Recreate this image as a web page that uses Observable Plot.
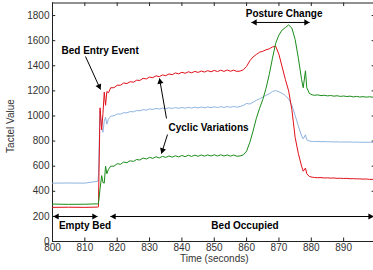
<!DOCTYPE html>
<html><head><meta charset="utf-8">
<script src="https://cdn.jsdelivr.net/npm/d3@7"></script>
<script src="https://cdn.jsdelivr.net/npm/@observablehq/plot@0.6"></script>
<style>body{margin:0;background:#fff}#chart{width:373px;height:270px;overflow:hidden}</style>
</head><body><div id="chart"></div>
<script>
const time = [800, 805, 810, 814, 814.2, 814.7, 815.2, 815.6, 816, 816.4, 816.8, 817.3,
  818, 819, 820, 821, 822, 823, 824, 825, 826, 827,
  828, 829, 830, 831, 832, 833, 834, 835, 836, 837,
  838, 839, 840, 841, 842, 843, 844, 845, 846, 847,
  848, 849, 850, 851, 852, 853, 854, 855, 856, 857,
  858, 859, 860, 861, 862, 863, 864, 865, 866, 867,
  868, 869, 870, 871, 872, 873, 874, 875, 876, 877,
  877.5, 878.2, 878.6, 879.4, 880.3,
  881, 882, 883, 884, 885, 886, 887, 888, 889, 890,
  891, 892, 893, 894, 895, 896, 897, 898, 899];
const redSeries = [272, 273, 272, 274, 276, 1065, 890, 1020, 1190, 1085, 1195, 1185,
  1225, 1225, 1245, 1245, 1263, 1258, 1273, 1269, 1285, 1283,
  1300, 1295, 1310, 1305, 1320, 1313, 1327, 1321, 1335, 1329,
  1343, 1336, 1348, 1340, 1352, 1344, 1355, 1347, 1358, 1350,
  1361, 1352, 1363, 1354, 1365, 1355, 1366, 1356, 1365, 1355,
  1358, 1368, 1395, 1440, 1470, 1490, 1508, 1515, 1527, 1535,
  1550, 1555, 1490, 1390, 1290, 1200, 1050, 830, 700, 600,
  560, 585, 540, 518, 512,
  510, 508, 509, 506, 507, 505, 506, 503, 504, 502,
  503, 500, 501, 499, 499, 497, 498, 495, 495];
const blueSeries = [465, 466, 465, 480, 520, 1040, 900, 870, 960, 990, 935, 975,
  998, 1002, 1016, 1015, 1026, 1025, 1035, 1033, 1043, 1041,
  1050, 1047, 1056, 1052, 1060, 1055, 1063, 1058, 1065, 1060,
  1067, 1061, 1068, 1062, 1069, 1063, 1070, 1064, 1071, 1065,
  1072, 1066, 1073, 1067, 1074, 1068, 1075, 1069, 1076, 1070,
  1075, 1085, 1100, 1095, 1110, 1125, 1137, 1150, 1165, 1177,
  1195, 1203, 1192, 1180, 1162, 1135, 1085, 1005, 920, 840,
  818, 850, 810, 800, 797,
  796, 797, 795, 796, 794, 795, 793, 794, 792, 793,
  792, 793, 791, 792, 790, 791, 790, 791, 790];
const greenSeries = [298, 296, 297, 300, 302, 420, 525, 470, 465, 600, 540, 575,
  600, 600, 620, 615, 633, 628, 643, 638, 653, 649,
  665, 657, 670, 662, 675, 666, 678, 670, 681, 672,
  683, 674, 685, 676, 687, 678, 688, 679, 689, 680,
  690, 681, 691, 681, 691, 681, 690, 680, 689, 679,
  682, 690, 720, 790, 880, 980, 1060, 1130, 1220, 1330,
  1460, 1580, 1645, 1685, 1705, 1725, 1700, 1610, 1460, 1290,
  1225, 1360, 1225, 1180, 1168,
  1165, 1168, 1162, 1165, 1160, 1163, 1158, 1161, 1156, 1159,
  1155, 1158, 1152, 1156, 1151, 1154, 1150, 1153, 1150];
const xTicks = [800, 810, 820, 830, 840, 850, 860, 870, 880, 890];
const yTicks = [0, 200, 400, 600, 800, 1000, 1200, 1400, 1600, 1800];

// annotations (data coordinates)
const labels = [
  {t: 802.78, v: 1522, text: "Bed Entry Event", anchor: "start"},
  {t: 835.86, v: 908, text: "Cyclic Variations", anchor: "start"},
  {t: 871.6, v: 1816, text: "Posture Change", anchor: "middle"},
  {t: 810.05, v: 127, text: "Empty Bed", anchor: "middle"},
  {t: 859.5, v: 127, text: "Bed Occupied", anchor: "middle"}
];
const links = [
  {t1: 810.2, v1: 1474, t2: 814.84, v2: 1211},
  {t1: 835.24, v1: 980, t2: 833.08, v2: 1298},
  {t1: 835.55, v1: 852, t2: 833.69, v2: 701},
  {t1: 861.5, v1: 1745, t2: 879.44, v2: 1745},
  {t1: 800.3, v1: 199, t2: 813.9, v2: 199},
  {t1: 817.9, v1: 199, t2: 899.2, v2: 199}
];
const heads = [
  {t: 814.40, v: 1236, rot: 156},
  {t: 833.26, v: 1272, rot: -10},
  {t: 834.0, v: 727, rot: -162.5},
  {t: 862.57, v: 1745, rot: -90},
  {t: 878.39, v: 1745, rot: 90},
  {t: 801.36, v: 199, rot: -90},
  {t: 812.86, v: 199, rot: 90},
  {t: 818.98, v: 199, rot: -90},
  {t: 898.2, v: 199, rot: 90}
];

const data = time.map((t, i) => ({t, red: redSeries[i], blue: blueSeries[i], green: greenSeries[i]}));

const chart = Plot.plot({
  width: 373, height: 270,
  marginLeft: 52, marginRight: -2.5, marginTop: 2.5, marginBottom: 29,
  x: {domain: [800, 900], range: [52, 375.5]},
  y: {domain: [0, 1900], range: [241, 2.5]},
  style: {fontFamily: "'Liberation Sans', Arial, Helvetica, sans-serif", fontSize: "10px", color: "#222", background: "white", overflow: "hidden"},
  marks: [
    Plot.axisX(xTicks, {tickSize: 0, tickPadding: 2, tickFormat: "d", label: null, fill: "#333"}),
    Plot.axisY(yTicks, {tickSize: 0, tickPadding: 3, tickFormat: "d", label: null, fill: "#333"}),
    Plot.ruleX(xTicks, {y1: 0, y2: 28, stroke: "#222"}),
    Plot.ruleX(xTicks, {y1: 1872, y2: 1900, stroke: "#222"}),
    Plot.ruleY(yTicks, {x1: 800, x2: 801, stroke: "#222"}),
    Plot.ruleY(yTicks, {x1: 898.8, x2: 900, stroke: "#222"}),
    Plot.ruleX([800], {stroke: "#222"}),
    Plot.ruleY([0], {stroke: "#222"}),
    Plot.ruleY([1900], {stroke: "#222"}),
    Plot.line(data, {x: "t", y: "blue", stroke: "#8fb4e0", strokeWidth: 1}),
    Plot.line(data, {x: "t", y: "red", stroke: "#e01018", strokeWidth: 1}),
    Plot.line(data, {x: "t", y: "green", stroke: "#1a8c1a", strokeWidth: 1}),
    Plot.link(links, {x1: "t1", y1: "v1", x2: "t2", y2: "v2", stroke: "black", strokeWidth: 1}),
    Plot.dot(heads, {x: "t", y: "v", rotate: "rot", symbol: "triangle", r: 2.3, fill: "black", stroke: "none"}),
    Plot.text(labels.filter(d => d.anchor === "start"), {x: "t", y: "v", text: "text", textAnchor: "start", fontWeight: "bold", fill: "black"}),
    Plot.text(labels.filter(d => d.anchor === "middle"), {x: "t", y: "v", text: "text", fontWeight: "bold", fill: "black"}),
    Plot.text(["Time (seconds)"], {frameAnchor: "bottom", dy: 20, fill: "#333"}),
    Plot.text(["Tactel Value"], {x: [787], y: [920], text: () => "Tactel Value", rotate: -90, fill: "#333"})
  ]
});
document.getElementById("chart").appendChild(chart);
</script></body></html>
